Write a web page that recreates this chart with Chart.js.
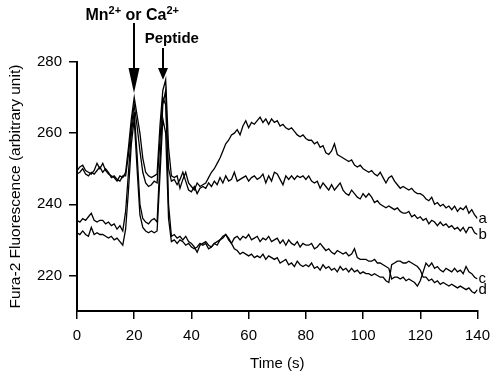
<!DOCTYPE html>
<html>
<head>
<meta charset="utf-8">
<script src="https://cdn.jsdelivr.net/npm/chart.js@4.4.1/dist/chart.umd.min.js"></script>
<style>
  html, body { margin: 0; padding: 0; background: #fff; }
  #wrap { width: 498px; height: 373px; }
</style>
</head>
<body>
<div id="wrap"><canvas id="fluoChart" width="498" height="373"></canvas></div>
<script>
// sampling grid, 1 s steps
const time = Array.from({ length: 141 }, (_, i) => i);

const traceA = [
  249.5, 250.5, 251, 249.5, 249, 248.5, 249.5, 251.5, 250, 251.5,
  249.5, 248.5, 248, 247.5, 246.5, 248, 247.5, 249, 256, 264,
  270, 265, 260, 253, 249, 248, 247.5, 248, 248.5, 262,
  272, 275, 256, 248, 247.5, 248, 244.5, 247, 249, 246,
  245, 244, 246, 245, 245.5, 246, 247.5, 249, 250, 251.5,
  253, 255, 257, 258, 259.5, 260, 261, 259.5, 262, 263.5,
  261.5, 263, 262.5, 263.5, 264.5, 263, 264, 262.5, 264, 263,
  263.5, 262, 262.5, 261.5, 261, 261.5, 260.5, 259.5, 259, 259.5,
  258.5, 258, 258, 257, 257.5, 256, 256.5, 254.5, 254, 255,
  257, 254, 253.5, 253, 252.5, 252, 252.5, 251, 250.5, 251,
  250, 249.5, 249, 249.5, 248.5, 248, 249, 247.5, 246, 247.5,
  248, 246.5, 245.5, 244.5, 245, 244.5, 244, 244.5, 243.5, 243,
  243, 242.5, 241.5, 241, 242, 240, 240.5, 239.5, 240, 239,
  239.5, 238.5, 239.5, 238, 239, 238.5, 239.5, 237.5, 238.5, 237,
  236
];

const traceB = [
  248.5, 249, 250, 248.5, 248, 249, 248.5, 249.5, 250.5, 249,
  250, 249, 247.5, 248, 247, 246.5, 248, 248, 254, 262,
  268, 262, 255, 249, 246, 245, 245.5, 246.5, 246, 258,
  270, 268, 250, 246.5, 247, 245.5, 247, 249, 246.5, 244,
  243.5, 245, 243, 244.5, 245, 244.5, 246, 245, 246.5, 245.5,
  247.5, 246, 248, 246.5, 247, 249, 246.5, 247, 247.5, 248,
  246.5, 247.5, 248, 247, 247.5, 248.5, 246, 248, 246.5, 249,
  248.5, 247, 245.5, 248, 247, 248, 247, 248, 247.5, 248,
  247, 248, 246.5, 246, 246.5, 244.5, 246, 245, 244, 245.5,
  244, 245, 246, 244, 243, 242.5, 244, 243, 242, 241.5,
  243, 242, 243, 242, 240.5, 241, 240, 239.5, 239, 239.5,
  239, 238.5, 239, 238, 237.5, 237.5, 238, 236.5, 237, 236,
  236.5, 235.5, 236, 234.5, 235.5, 235, 234, 235, 234, 234.5,
  233.5, 234, 233, 233.5, 232.5, 233.5, 232, 233.5, 233.5, 232,
  231.5
];

const traceC = [
  235.5, 235, 236, 235.5, 236.5, 237.5, 235.5, 235, 235.5, 235.5,
  234.5, 235, 234, 234.5, 233, 234, 232.5, 238, 249, 260,
  266, 254, 240, 236, 235, 234.5, 235.5, 236, 235, 252,
  268, 272, 240, 231, 231.5, 230.5, 231, 230, 231, 229.5,
  229, 228, 226.5, 228.5, 229, 229.5, 228.5, 228, 229, 229.5,
  230, 230.5, 231.5, 230, 229, 230.5, 231, 230, 231, 230.5,
  231.5, 230, 230.5, 231, 229.5, 230.5, 230, 231, 229.5, 230,
  230.5, 229, 230, 228.5, 230, 229, 228.5, 229.5, 228, 229,
  228.5, 228.5, 229, 227.5, 228, 229, 228, 227, 227.5, 226.5,
  226, 227, 226.5, 226, 226.5, 225.5, 226, 227.5, 225, 224.5,
  224.5, 224.5, 224, 224, 224.5, 223.5, 223.5, 223, 222.5, 222,
  219, 219.5, 219.5, 219, 219.5, 218.5, 219, 218.5, 218, 217,
  218.5, 221, 223.5, 222.5, 223.5, 222, 222.5, 221.5, 221, 222,
  221.5, 221, 222, 221, 221.5, 220.5, 222.5, 221, 220.5, 219.5,
  219
];

const traceD = [
  232, 231.5, 232.5, 231.5, 231, 233.5, 231.5, 232, 231.5, 231.5,
  231, 230.5, 231, 230, 230.5, 229.5, 228.5, 233, 244, 257,
  264, 250, 237, 233.5, 232.5, 232, 232.5, 232, 232.5, 248,
  264, 260, 236, 229.5, 230, 229, 230, 229.5, 228.5, 229,
  228, 227.5, 228, 229, 228.5, 229, 227.5, 228, 229, 228.5,
  230, 231, 231.5, 230.5, 229, 227.5, 227, 226, 226.5, 226,
  225.5, 226, 225, 225.5, 225, 226, 224.5, 225.5, 225, 224.5,
  225, 223.5, 224, 224.5, 223, 223.5, 222.5, 224, 223, 222.5,
  223, 222.5, 223.5, 222, 222.5, 221.5, 223, 222, 222.5, 221.5,
  222, 221, 222.5, 221.5, 222, 221, 222, 221, 221.5, 220.5,
  221, 220.5, 220.5, 220, 220.5, 220, 219.5, 219.5, 218.5, 218,
  223, 223.5, 224, 224, 223.5, 223.5, 224, 223.5, 223, 222.5,
  221.5, 219.5, 219.5, 218.5, 219, 218, 218.5, 217.5, 218, 217.5,
  217, 217.5, 217, 216.5, 217, 216.5, 216, 216.5, 215.5, 215,
  216
];

const traceLabels = ["a", "b", "c", "d"];
const xTicks = [0, 20, 40, 60, 80, 100, 120, 140];
const yTicks = [220, 240, 260, 280];

// stimulus arrows: time of addition and value at the arrow tip
const arrowTimes = [20, 30];
const arrowTips = [271.3, 275];

const FONT = "'Liberation Sans', Arial, sans-serif";
Chart.defaults.font.family = FONT;
Chart.defaults.font.size = 15;
Chart.defaults.color = "#000";

const annotate = {
    id: "annotate",
    afterDraw(chart) {
        const { ctx, scales: { x, y } } = chart;
        ctx.save();
        ctx.fillStyle = "#000";
        ctx.strokeStyle = "#000";

        // arrows
        const shaftTop = [23, 48];
        const headBase = [68, 68];
        const headHalf = [5.5, 5];
        arrowTimes.forEach((t, i) => {
            const px = Math.round(x.getPixelForValue(t));
            const tip = y.getPixelForValue(arrowTips[i]);
            ctx.lineWidth = 2;
            ctx.beginPath();
            ctx.moveTo(px, shaftTop[i]);
            ctx.lineTo(px, headBase[i] + 1);
            ctx.stroke();
            ctx.beginPath();
            ctx.moveTo(px - headHalf[i], headBase[i]);
            ctx.lineTo(px + headHalf[i], headBase[i]);
            ctx.lineTo(px, tip);
            ctx.closePath();
            ctx.fill();
        });

        // "Mn2+ or Ca2+" with superscripts
        const parts = [
            { s: "Mn", sup: false },
            { s: "2+", sup: true },
            { s: " or Ca", sup: false },
            { s: "2+", sup: true }
        ];
        const big = "bold 16px " + FONT, small = "bold 11px " + FONT;
        let total = 0;
        parts.forEach(p => { ctx.font = p.sup ? small : big; total += ctx.measureText(p.s).width; });
        let cx = x.getPixelForValue(arrowTimes[0]) - 2 - total / 2;
        ctx.textAlign = "left";
        ctx.textBaseline = "alphabetic";
        parts.forEach(p => {
            ctx.font = p.sup ? small : big;
            ctx.fillText(p.s, cx, p.sup ? 14 : 20);
            cx += ctx.measureText(p.s).width;
        });

        ctx.font = "bold 15px " + FONT;
        ctx.textAlign = "center";
        ctx.fillText("Peptide", x.getPixelForValue(arrowTimes[1]) + 9, 43);

        // trace letters at the right end
        ctx.font = "15px " + FONT;
        ctx.textAlign = "left";
        ctx.textBaseline = "middle";
        chart.data.datasets.forEach((ds, i) => {
            const last = ds.data[ds.data.length - 1];
            ctx.fillText(traceLabels[i], x.right + 1, y.getPixelForValue(last.y));
        });
        ctx.restore();
    }
};

function pts(vals) {
    return vals.map((v, i) => ({ x: time[i], y: v }));
}

const lineStyle = {
    borderColor: "#000",
    borderWidth: 1.3,
    pointRadius: 0,
    fill: false,
    tension: 0
};

new Chart(document.getElementById("fluoChart").getContext("2d"), {
    type: "line",
    data: {
        datasets: [
            { label: "a", data: pts(traceA), ...lineStyle },
            { label: "b", data: pts(traceB), ...lineStyle },
            { label: "c", data: pts(traceC), ...lineStyle },
            { label: "d", data: pts(traceD), ...lineStyle }
        ]
    },
    options: {
        responsive: false,
        animation: false,
        layout: { padding: { left: 0, right: 14, top: 62, bottom: 0 } },
        scales: {
            x: {
                type: "linear",
                min: 0,
                max: 140,
                afterBuildTicks: s => { s.ticks = xTicks.map(v => ({ value: v })); },
                afterFit: s => { s.height = 62; },
                ticks: { autoSkip: false, maxRotation: 0, padding: 8, font: { size: 15 } },
                grid: { drawOnChartArea: false, drawTicks: true, tickLength: 8, color: "#000", lineWidth: 1.5 },
                border: { display: true, color: "#000", width: 2 },
                title: { display: true, text: "Time (s)", font: { size: 15 }, padding: { top: 0, bottom: 0 } }
            },
            y: {
                min: 210,
                max: 280,
                afterBuildTicks: s => { s.ticks = yTicks.map(v => ({ value: v })); },
                afterFit: s => { s.width = 77; },
                ticks: { padding: 7, font: { size: 15 } },
                grid: { drawOnChartArea: false, drawTicks: true, tickLength: 8, color: "#000", lineWidth: 1.5 },
                border: { display: true, color: "#000", width: 2 },
                title: { display: true, text: "Fura-2 Fluorescence (arbitrary unit)", font: { size: 15.5 }, padding: { top: 6, bottom: 0 } }
            }
        },
        plugins: {
            legend: { display: false },
            tooltip: { enabled: false }
        }
    },
    plugins: [annotate]
});
</script>
</body>
</html>
